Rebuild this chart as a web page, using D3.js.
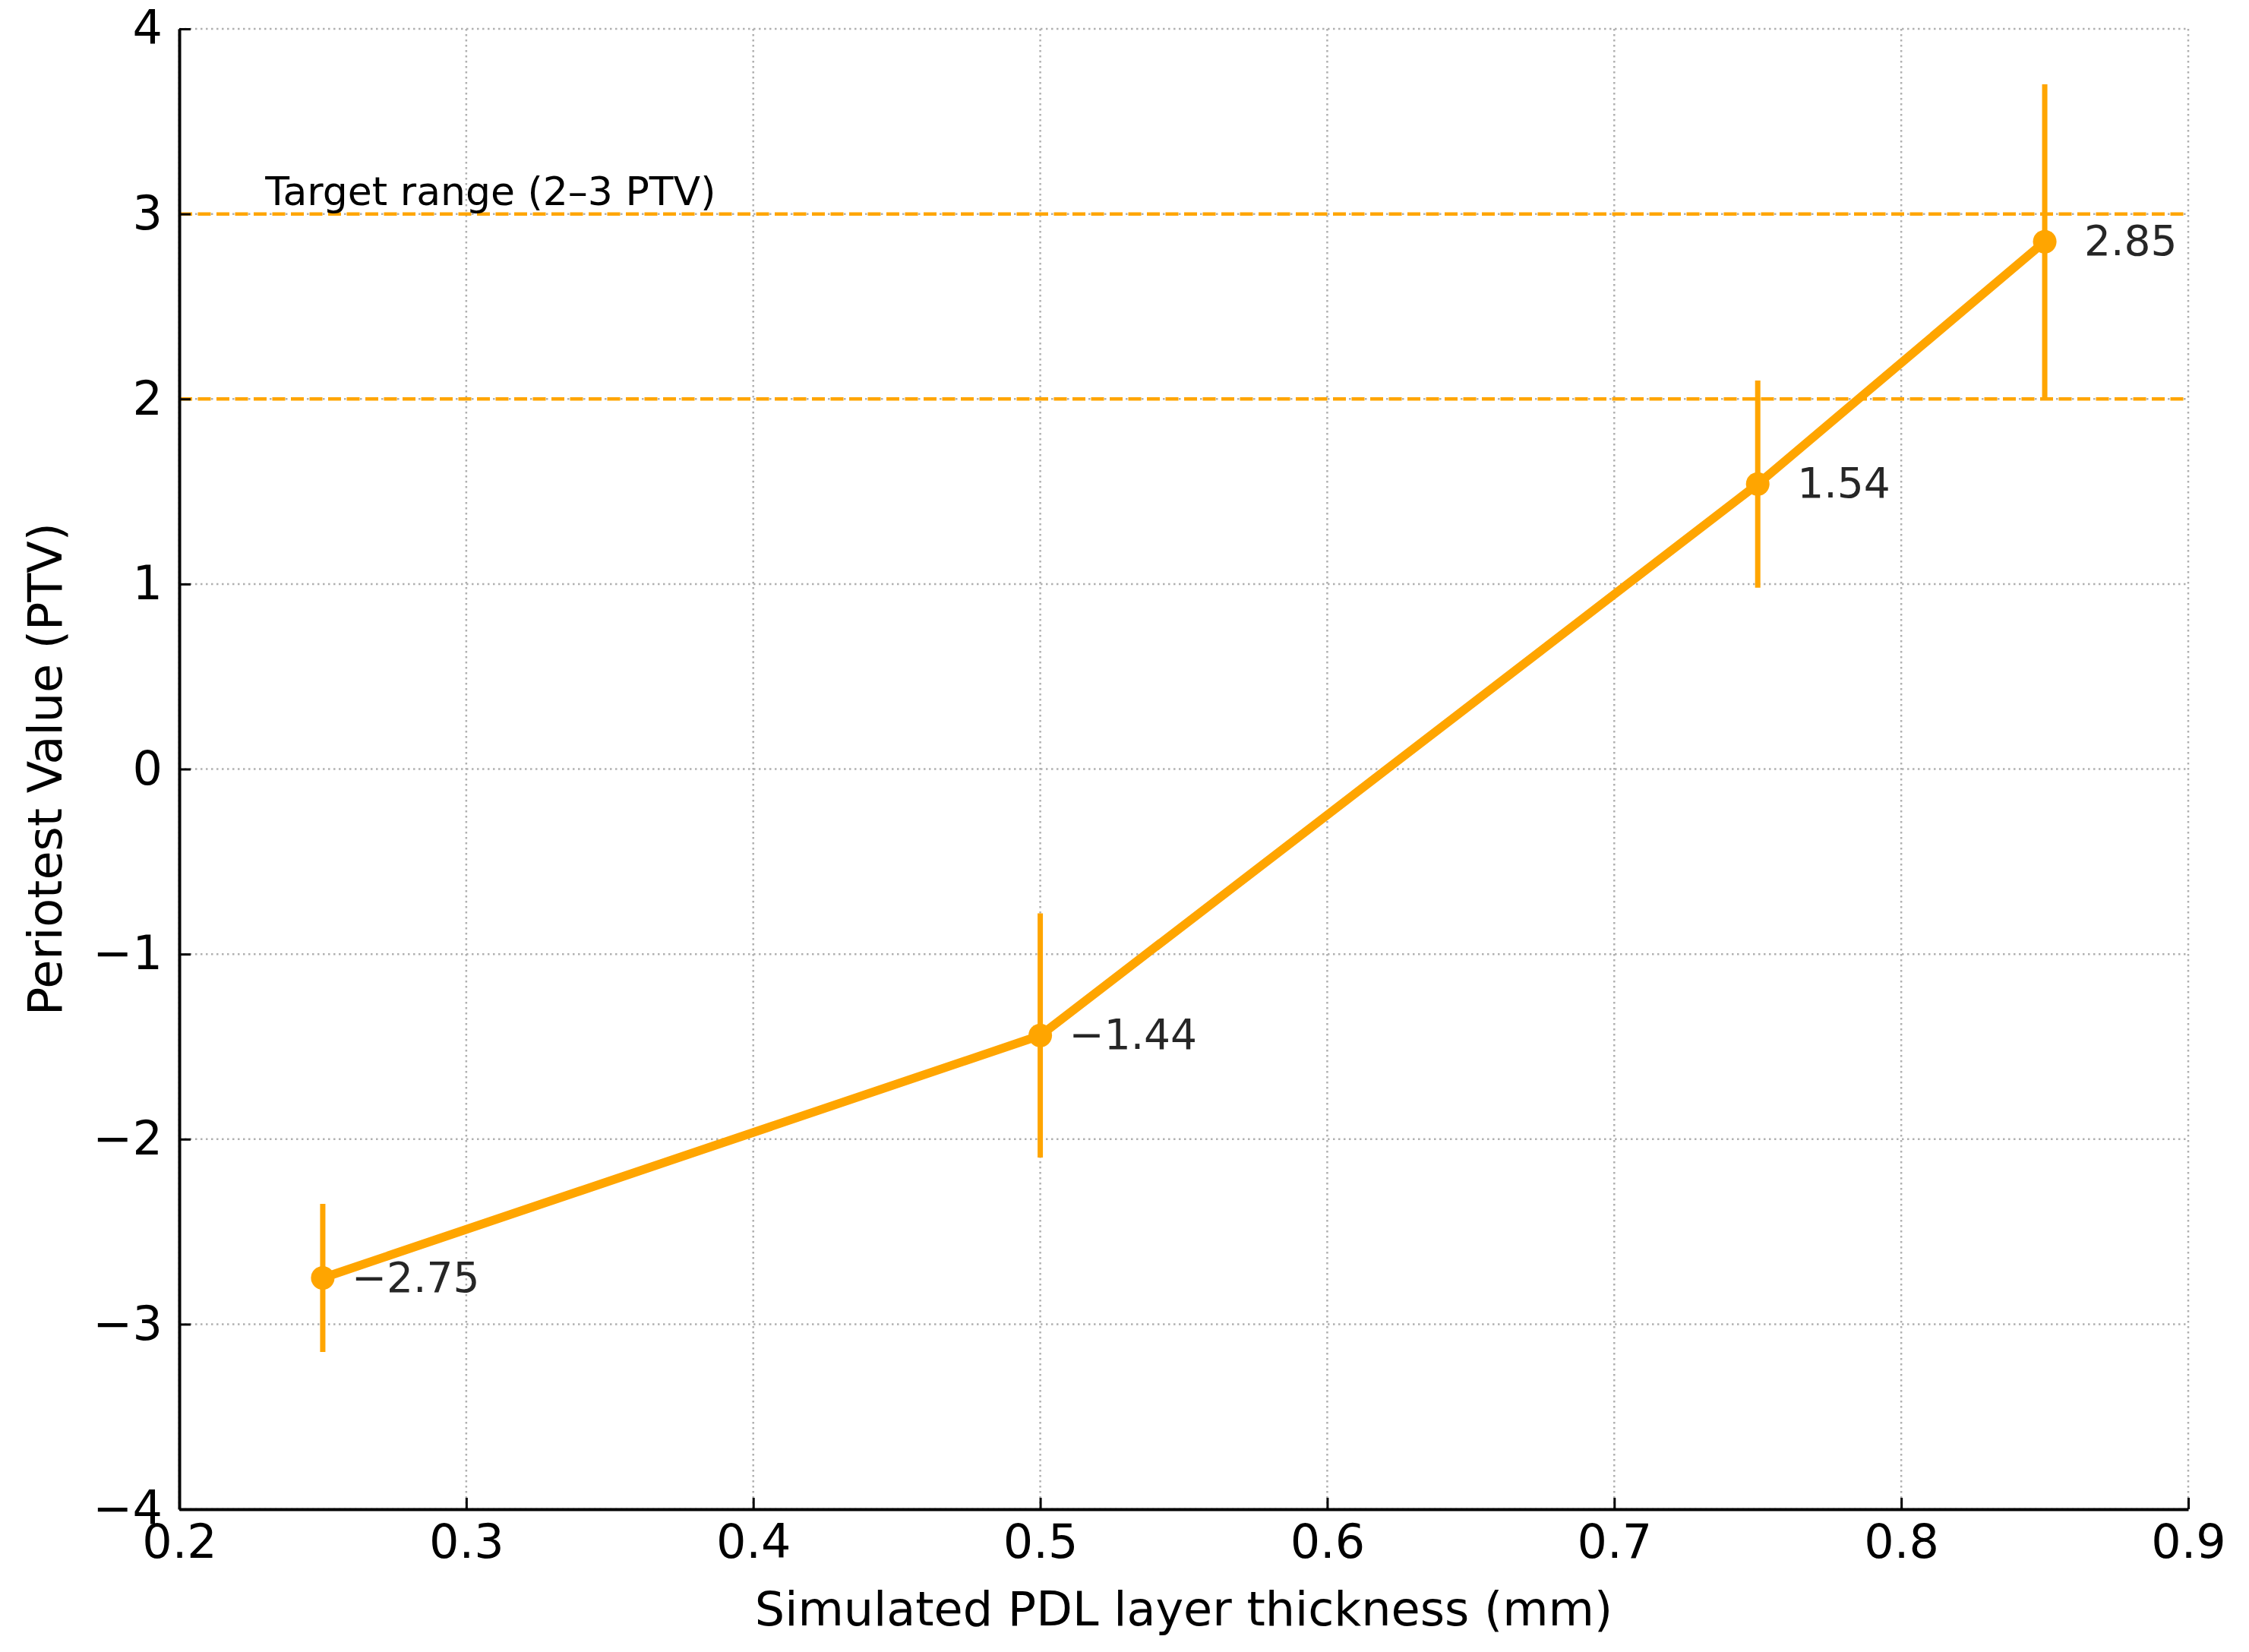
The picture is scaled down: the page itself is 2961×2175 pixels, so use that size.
<!DOCTYPE html>
<html>
<head>
<meta charset="utf-8">
<script src="https://cdn.jsdelivr.net/npm/d3@7"></script>
<style>
  body { margin: 0; background: #fff; }
  text { font-family: "DejaVu Sans", sans-serif; }
</style>
</head>
<body>
<div id="chart"></div>
<script>
// data
var thickness = [0.25, 0.5, 0.75, 0.85];
var ptv = [-2.75, -1.44, 1.54, 2.85];
var ptvErr = [0.40, 0.66, 0.56, 0.85];
var targetLines = [2, 3];
var xTicks = [0.2, 0.3, 0.4, 0.5, 0.6, 0.7, 0.8, 0.9];
var yTicks = [-4, -3, -2, -1, 0, 1, 2, 3, 4];

var width = 2961,
    height = 2175;
var margin = {top: 38, right: 80, bottom: 188, left: 236};
var iw = width - margin.left - margin.right,
    ih = height - margin.top - margin.bottom;
var orange = "#ffa500";

var svg = d3.select("#chart")
    .append("svg")
    .attr("width", width)
    .attr("height", height);

var g = svg.append("g")
    .attr("transform", "translate(" + margin.left + "," + margin.top + ")");

var x = d3.scaleLinear()
    .domain([0.2, 0.9])
    .range([0, iw]);

var y = d3.scaleLinear()
    .domain([-4, 4])
    .range([ih, 0]);

// grid
g.append("g")
    .selectAll("line.vg")
    .data(xTicks)
    .enter().append("line")
    .attr("x1", function(d) { return x(d); })
    .attr("x2", function(d) { return x(d); })
    .attr("y1", 0)
    .attr("y2", ih)
    .attr("stroke", "#b0b0b0")
    .attr("stroke-width", 2.5)
    .attr("stroke-dasharray", "2.5,4.5");

g.append("g")
    .selectAll("line.hg")
    .data(yTicks)
    .enter().append("line")
    .attr("x1", 0)
    .attr("x2", iw)
    .attr("y1", function(d) { return y(d); })
    .attr("y2", function(d) { return y(d); })
    .attr("stroke", "#b0b0b0")
    .attr("stroke-width", 2.5)
    .attr("stroke-dasharray", "2.5,4.5");

// target range lines
g.append("g")
    .selectAll("line")
    .data(targetLines)
    .enter().append("line")
    .attr("x1", 0)
    .attr("x2", iw)
    .attr("y1", function(d) { return y(d); })
    .attr("y2", function(d) { return y(d); })
    .attr("stroke", orange)
    .attr("stroke-width", 4.5)
    .attr("stroke-dasharray", "17,7.5");

g.append("text")
    .attr("x", x(0.23))
    .attr("y", y(3) - 12)
    .attr("font-size", 52)
    .attr("fill", "#000")
    .text("Target range (2\u20133 PTV)");

var pts = thickness.map(function(d, i) {
  return {x: d, y: ptv[i], e: ptvErr[i]};
});

// error bars
g.append("g")
    .selectAll("line")
    .data(pts)
    .enter().append("line")
    .attr("x1", function(d) { return x(d.x); })
    .attr("x2", function(d) { return x(d.x); })
    .attr("y1", function(d) { return y(d.y - d.e); })
    .attr("y2", function(d) { return y(d.y + d.e); })
    .attr("stroke", orange)
    .attr("stroke-width", 7);

var line = d3.line()
    .x(function(d) { return x(d.x); })
    .y(function(d) { return y(d.y); });

g.append("path")
    .datum(pts)
    .attr("d", line)
    .attr("fill", "none")
    .attr("stroke", orange)
    .attr("stroke-width", 11.5)
    .attr("stroke-linejoin", "round");

g.append("g")
    .selectAll("circle")
    .data(pts)
    .enter().append("circle")
    .attr("cx", function(d) { return x(d.x); })
    .attr("cy", function(d) { return y(d.y); })
    .attr("r", 15.5)
    .attr("fill", orange);

// value labels
g.append("g")
    .selectAll("text")
    .data(pts)
    .enter().append("text")
    .attr("x", function(d) { return x(d.x) + (d.y < 0 ? 38 : 52); })
    .attr("y", function(d) { return y(d.y); })
    .attr("dy", "0.33em")
    .attr("font-size", 55)
    .attr("fill", "#262626")
    .text(function(d) { return d3.format(".2f")(d.y).replace("-", "\u2212"); });

// axes
var xAxis = d3.axisBottom(x)
    .tickValues(xTicks)
    .tickFormat(d3.format(".1f"))
    .tickSizeInner(-15)
    .tickSizeOuter(0)
    .tickPadding(20);

var yAxis = d3.axisLeft(y)
    .tickValues(yTicks)
    .tickFormat(function(d) { return d3.format("d")(d); })
    .tickSizeInner(-15)
    .tickSizeOuter(0)
    .tickPadding(22);

var gx = g.append("g")
    .attr("transform", "translate(0," + ih + ")")
    .call(xAxis);

var gy = g.append("g")
    .call(yAxis);

[gx, gy].forEach(function(a) {
  a.select(".domain").attr("stroke", "#000").attr("stroke-width", 4);
  a.selectAll(".tick line").attr("stroke", "#000").attr("stroke-width", 3);
  a.selectAll(".tick text")
      .attr("font-size", 62)
      .attr("font-family", "DejaVu Sans")
      .attr("fill", "#000");
});

g.append("text")
    .attr("x", iw / 2)
    .attr("y", ih + 153)
    .attr("text-anchor", "middle")
    .attr("font-size", 62)
    .text("Simulated PDL layer thickness (mm)");

g.append("text")
    .attr("transform", "translate(" + (-155) + "," + (ih / 2) + ") rotate(-90)")
    .attr("text-anchor", "middle")
    .attr("font-size", 62)
    .text("Periotest Value (PTV)");
</script>
</body>
</html>
